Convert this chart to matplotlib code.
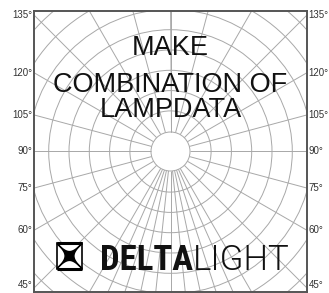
import numpy as np
import matplotlib
matplotlib.use("Agg")
import matplotlib.pyplot as plt
from matplotlib.patches import Circle, Rectangle, Polygon
from matplotlib import font_manager

# ---- grid definition ----
ring_levels = [1, 2, 3, 4, 5, 6, 7, 8, 9, 10]          # concentric rings
ring_step_px = 20.3
spoke_major = [45, 60, 75, 90, 105, 120, 135, 150, 165, 180]   # degrees from nadir
spoke_lower = [0, 6, 12, 18, 24, 30]
edge_labels = [135, 120, 105, 90, 75, 60, 45]
title_lines = ["MAKE", "COMBINATION OF", "LAMPDATA"]
brand_bold = "DELTA"
brand_light = "LIGHT"


def pick(fams, weight="normal"):
    for f in fams:
        try:
            font_manager.findfont(font_manager.FontProperties(family=f, weight=weight),
                                  fallback_to_default=False)
            return f
        except Exception:
            continue
    return "DejaVu Sans"


narrow = pick(["Liberation Sans Narrow", "Roboto Condensed", "Open Sans Condensed", "Liberation Sans"], "bold")

W, H = 329, 293
fig = plt.figure(figsize=(W / 100, H / 100), dpi=100)
fig.patch.set_facecolor("white")

# axes box in pixels
L, T, R, B = 34, 11, 307, 292
ax = fig.add_axes([L / W, 1 - B / H, (R - L) / W, (B - T) / H])
hx, hy = (R - L) / 2, (B - T) / 2
ax.set_xlim(-hx, hx)
ax.set_ylim(-hy, hy)
ax.set_xticks([]); ax.set_yticks([])
for s in ax.spines.values():
    s.set_color("#555555")
    s.set_linewidth(1.4)

grid_col = "#a8a8a8"
grid_lw = 0.7
for k in ring_levels:
    ax.add_patch(Circle((0, 0), k * ring_step_px - (0.8 if k == 1 else 0), fill=False,
                        ec=grid_col, lw=grid_lw))

angles = sorted(set(spoke_major + [-a for a in spoke_major] + spoke_lower + [-a for a in spoke_lower]))
r0 = ring_levels[0] * ring_step_px - 0.8
for a in angles:
    th = np.deg2rad(a)
    dx, dy = np.sin(th), -np.cos(th)
    ax.plot([r0 * dx, 400 * dx], [r0 * dy, 400 * dy], color=grid_col, lw=grid_lw,
            solid_capstyle="butt")

# edge labels
for a in edge_labels:
    th = np.deg2rad(a)
    ydat = -hx / np.tan(th) if a != 90 else 0.0
    ydat = min(max(ydat, -hy + 7), hy - 2)
    for side, xa, ha in ((-1, -hx - 1.5, "right"), (1, hx + 1.5, "left")):
        ax.text(xa, ydat, f"{a}°", ha=ha, va="center", fontsize=7,
                family="Liberation Sans", color="#333333", clip_on=False)


def py2d(py):
    return hy - (py - T)


def px2d(px):
    return px - L - hx


# title
title_y = [48.5, 85, 110.5]
for txt, py in zip(title_lines, title_y):
    ax.text(0, py2d(py), txt, ha="center", va="center", fontsize=19.5,
            family="Liberation Sans", color="#111111")

# logo icon
x0, x1 = px2d(57), px2d(82)
y0, y1 = py2d(269), py2d(243)
cx, cy = (x0 + x1) / 2, (y0 + y1) / 2
s = (x1 - x0) / 2
t = np.linspace(0, 2 * np.pi, 400)
p = 5
ux = np.sign(np.cos(t)) * np.abs(np.cos(t)) ** p
uy = np.sign(np.sin(t)) * np.abs(np.sin(t)) ** p
rot = np.deg2rad(45)
sx = (ux * np.cos(rot) - uy * np.sin(rot)) * s * np.sqrt(2)
sy = (ux * np.sin(rot) + uy * np.cos(rot)) * s * np.sqrt(2)
ax.add_patch(Rectangle((x0, y0), x1 - x0, y1 - y0, fill=True, fc="white", ec="black", lw=1.2, zorder=5))
ax.add_patch(Polygon(np.column_stack([cx + sx, cy + sy]), closed=True, fc="black", ec="black", lw=1.0, zorder=6))
ax.plot([x0, x1], [y1, y1], color="black", lw=2.2, zorder=7, solid_capstyle="butt")
ax.plot([x0, x1], [y0, y0], color="black", lw=2.2, zorder=7, solid_capstyle="butt")

# brand text
tb = ax.text(px2d(100), py2d(270), brand_bold, ha="left", va="baseline", fontsize=25,
             family=narrow, fontweight="bold", color="#111111")
ax.annotate(brand_light, xy=(1, 0), xycoords=tb, ha="left", va="bottom", fontsize=25,
            family="Roboto", fontweight=300, color="#111111")

fig.savefig("out.png", dpi=100, facecolor="white")
